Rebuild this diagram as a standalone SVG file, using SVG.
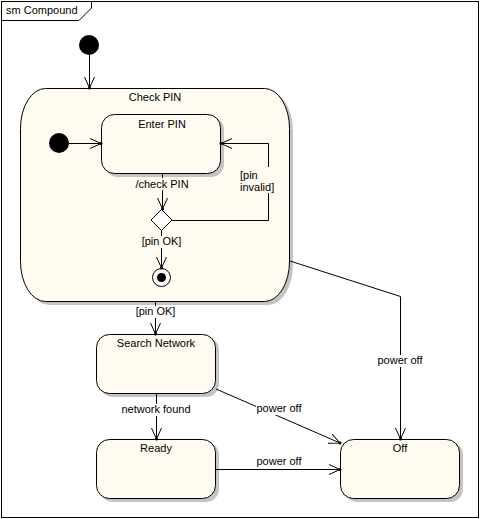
<svg xmlns="http://www.w3.org/2000/svg" width="480" height="519" viewBox="0 0 480 519">
<defs>
<style>
.state{fill:#FFFBF0;stroke:#000;stroke-width:1}
.shadow{fill:#C4C4C4;stroke:none}
.t{font-family:"Liberation Sans",Arial,sans-serif;font-size:11px;fill:#000}
.c{text-anchor:middle}
.edge{fill:none;stroke:#000;stroke-width:1}
.lbl{fill:#fff;stroke:none}
</style>
<marker id="arr" markerUnits="userSpaceOnUse" markerWidth="14" markerHeight="14" refX="11" refY="6" orient="auto" viewBox="0 0 14 12">
<path d="M0,1 L11,6 L0,11" fill="none" stroke="#000" stroke-width="1"/>
<circle cx="11" cy="6" r="1.5" fill="#000"/>
</marker>
</defs>
<rect x="0" y="0" width="480" height="519" fill="#fff"/>
<g id="frame">
<rect x="1.5" y="1.5" width="477" height="516" fill="none" stroke="#000"/>
<path d="M1.5,20.5 H79 L91.5,8 V1.5" fill="none" stroke="#000"/>
<text class="t" x="6" y="14">sm Compound</text>
</g>
<g id="init">
<circle cx="89" cy="45" r="10" fill="#000"/>
</g>
<g id="checkpin">
<rect class="shadow" x="24" y="91" width="269" height="214" rx="25" ry="40"/>
<rect class="state" x="20.5" y="88.5" width="269" height="213" rx="25" ry="40"/>
<text class="t c" x="155" y="101">Check PIN</text>
</g>
<g id="init2">
<circle cx="59" cy="143" r="10" fill="#000"/>
</g>
<g id="enterpin">
<rect class="shadow" x="105" y="117" width="119" height="60" rx="13"/>
<rect class="state" x="101.5" y="114.5" width="119" height="59" rx="13"/>
<text class="t c" x="162" y="128">Enter PIN</text>
</g>
<g id="choice">
<path d="M161.5,209.5 L172,220 L161.5,230.5 L151,220 Z" fill="#fff" stroke="#000"/>
</g>
<g id="final">
<circle cx="161.5" cy="277.5" r="9" fill="#fff" stroke="#000"/>
<circle cx="161.5" cy="277.5" r="4.5" fill="#000"/>
</g>
<g id="search">
<rect class="shadow" x="100" y="337" width="119" height="60" rx="13"/>
<rect class="state" x="96.5" y="334.5" width="119" height="59" rx="13"/>
<text class="t c" x="156" y="347">Search Network</text>
</g>
<g id="ready">
<rect class="shadow" x="100" y="442" width="119" height="60" rx="13"/>
<rect class="state" x="96.5" y="439.5" width="119" height="59" rx="13"/>
<text class="t c" x="156" y="452">Ready</text>
</g>
<g id="off">
<rect class="shadow" x="344" y="442" width="119" height="60" rx="13"/>
<rect class="state" x="340.5" y="439.5" width="119" height="59" rx="13"/>
<text class="t c" x="400" y="452">Off</text>
</g>
<g id="connectors">
<path class="edge" d="M89.5,55 V88" marker-end="url(#arr)"/>
<path class="edge" d="M69,143.5 H101" marker-end="url(#arr)"/>
<path class="edge" d="M162.5,174 V209" marker-end="url(#arr)"/>
<path class="edge" d="M172,220.5 H268.5 V143.5 H221" marker-end="url(#arr)"/>
<path class="edge" d="M161.5,231 V268" marker-end="url(#arr)"/>
<path class="edge" d="M155.5,302 V334" marker-end="url(#arr)"/>
<path class="edge" d="M156.5,394 V439" marker-end="url(#arr)"/>
<path class="edge" d="M216,389 L340,443" marker-end="url(#arr)"/>
<path class="edge" d="M216,469.5 H340" marker-end="url(#arr)"/>
<path class="edge" d="M290,261 L400.5,296.5 V439" marker-end="url(#arr)"/>
<rect class="lbl" x="135" y="178" width="54" height="12" fill="#FFFBF0" style="fill:#FFFBF0"/>
<text class="t c" x="162" y="188">/check PIN</text>
<rect class="lbl" x="238" y="167" width="38" height="26" style="fill:#FFFBF0"/>
<text class="t" x="240" y="179">[pin</text>
<text class="t" x="240" y="191">invalid]</text>
<rect class="lbl" x="140" y="236" width="43" height="12" style="fill:#FFFBF0"/>
<text class="t c" x="161.5" y="245">[pin OK]</text>
<rect class="lbl" x="134" y="306" width="43" height="12"/>
<text class="t c" x="155.5" y="315">[pin OK]</text>
<rect class="lbl" x="122" y="404" width="68" height="12"/>
<text class="t c" x="156" y="413">network found</text>
<rect class="lbl" x="256" y="403" width="47" height="12"/>
<text class="t c" x="279" y="412">power off</text>
<text class="t c" x="279" y="465">power off</text>
<rect class="lbl" x="377" y="355" width="47" height="12"/>
<text class="t c" x="400" y="364">power off</text>
</g>
</svg>
